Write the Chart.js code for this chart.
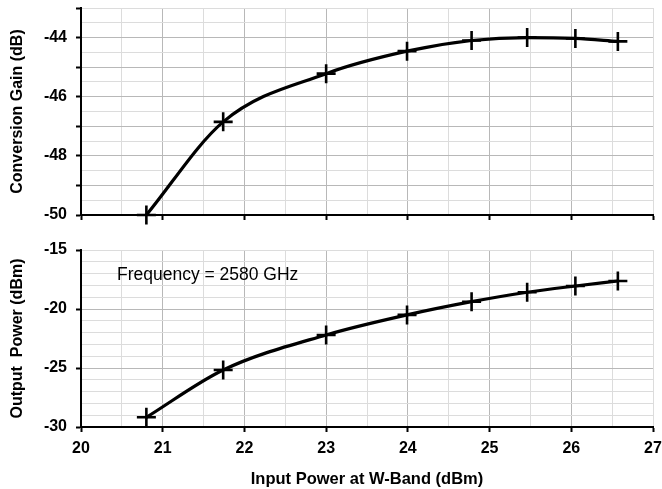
<!DOCTYPE html>
<html>
<head>
<meta charset="utf-8">
<script src="https://cdn.jsdelivr.net/npm/chart.js@4/dist/chart.umd.min.js"></script>
<style>
  html, body { margin: 0; padding: 0; background: #fff; }
  #wrap { position: relative; width: 662px; height: 489px; }
  .box { position: absolute; left: 0; width: 662px; }
  #top { top: 0; height: 230px; }
  #bot { top: 230px; height: 259px; }
</style>
</head>
<body>
<div id="wrap">
  <div class="box" id="top"><canvas id="gainChart"></canvas></div>
  <div class="box" id="bot"><canvas id="powerChart"></canvas></div>
</div>
<script>
// input power at W-band (dBm)
const inputPower = [20.8, 21.74, 23.0, 23.99, 24.78, 25.46, 26.05, 26.57];
// conversion gain (dB)
const conversionGain = [-50.0, -46.85, -45.22, -44.46, -44.1, -44.0, -44.03, -44.13];
// output power (dBm)
const outputPower = [-29.18, -25.17, -22.2, -20.5, -19.38, -18.58, -18.05, -17.63];

const xTicks = [20, 21, 22, 23, 24, 25, 26, 27];
const gainTicks = [-50, -48, -46, -44];
const powerTicks = [-30, -25, -20, -15];
const noteText = "Frequency = 2580 GHz";

const FONT = "'Liberation Sans', Arial, Helvetica, sans-serif";
const MAJOR = "#b8b8b8";
const MINOR = "#dcdcdc";

const isInt = (v) => Math.abs(v - Math.round(v)) < 1e-6;

function points(ys) {
  return inputPower.map((x, i) => ({ x: x, y: ys[i] }));
}

function lineDataset(ys) {
  return {
    data: points(ys),
    borderColor: "#000",
    borderWidth: 3.2,
    cubicInterpolationMode: "monotone",
    pointStyle: "cross",
    pointRadius: 9.5,
    pointBorderWidth: 2.6,
    pointBorderColor: "#000",
    pointBackgroundColor: "#000",
    clip: false,
  };
}

function xScale(showLabels, height) {
  return {
    type: "linear",
    min: 20,
    max: 27,
    ticks: {
      stepSize: 0.5,
      padding: 7,
      maxRotation: 0,
      autoSkip: false,
      color: "#000",
      font: { family: FONT, size: 16, weight: "bold" },
      callback: (v) => (showLabels && xTicks.includes(v) ? String(v) : ""),
    },
    grid: {
      // the far right edge is drawn light like the minor lines
      color: (c) => (isInt(c.tick.value) && c.tick.value < 27 ? MAJOR : MINOR),
      tickColor: (c) => (isInt(c.tick.value) ? "#000" : "rgba(0,0,0,0)"),
      tickLength: 5,
      tickWidth: 2,
    },
    border: { color: "#000", width: 2 },
    title: {
      display: showLabels,
      text: "Input Power at W-Band (dBm)",
      color: "#000",
      font: { family: FONT, size: 16.5, weight: "bold" },
      padding: { top: 5, bottom: 0 },
    },
    afterFit: (s) => {
      s.height = height;
      s.paddingLeft = 0;
      s.paddingRight = 0;
    },
  };
}

function yScale(min, max, step, labels, markEvery, title) {
  return {
    min: min,
    max: max,
    ticks: {
      stepSize: step,
      padding: 9,
      autoSkip: false,
      color: "#000",
      font: { family: FONT, size: 16, weight: "bold" },
      callback: (v) => (labels.includes(v) ? String(v) : ""),
    },
    grid: {
      color: (c) =>
        isInt(c.tick.value / markEvery) && c.tick.value < max ? MAJOR : MINOR,
      tickColor: (c) =>
        isInt(c.tick.value / markEvery) ? "#000" : "rgba(0,0,0,0)",
      tickLength: 5,
      tickWidth: 2,
    },
    border: { color: "#000", width: 2 },
    title: {
      display: true,
      text: title,
      color: "#000",
      font: { family: FONT, size: 16, weight: "bold" },
      padding: { top: 8, bottom: 0 },
    },
    afterFit: (s) => {
      s.width = 81;
      s.paddingTop = 0;
      s.paddingBottom = 0;
    },
  };
}

// frequency note in the lower panel
const notePlugin = {
  id: "note",
  afterDraw(chart) {
    const { ctx, scales } = chart;
    ctx.save();
    ctx.fillStyle = "#000";
    ctx.font = "17.5px " + FONT;
    ctx.textBaseline = "alphabetic";
    ctx.fillText(noteText, scales.x.getPixelForValue(20.44), scales.y.getPixelForValue(-17.54));
    ctx.restore();
  },
};

const common = {
  responsive: true,
  maintainAspectRatio: false,
  animation: false,
  plugins: { legend: { display: false }, tooltip: { enabled: false } },
};

new Chart(document.getElementById("gainChart"), {
  type: "line",
  data: { datasets: [lineDataset(conversionGain)] },
  options: {
    ...common,
    layout: { autoPadding: false, padding: { top: 8, right: 9, bottom: 0, left: 0 } },
    scales: {
      x: xScale(false, 15),
      y: yScale(-50, -43, 0.5, gainTicks, 1, "Conversion Gain (dB)"),
    },
  },
});

new Chart(document.getElementById("powerChart"), {
  type: "line",
  data: { datasets: [lineDataset(outputPower)] },
  options: {
    ...common,
    layout: { autoPadding: false, padding: { top: 20, right: 9, bottom: 0, left: 0 } },
    scales: {
      x: xScale(true, 62),
      y: yScale(-30, -15, 1, powerTicks, 5, "Output  Power (dBm)"),
    },
  },
  plugins: [notePlugin],
});
</script>
</body>
</html>
